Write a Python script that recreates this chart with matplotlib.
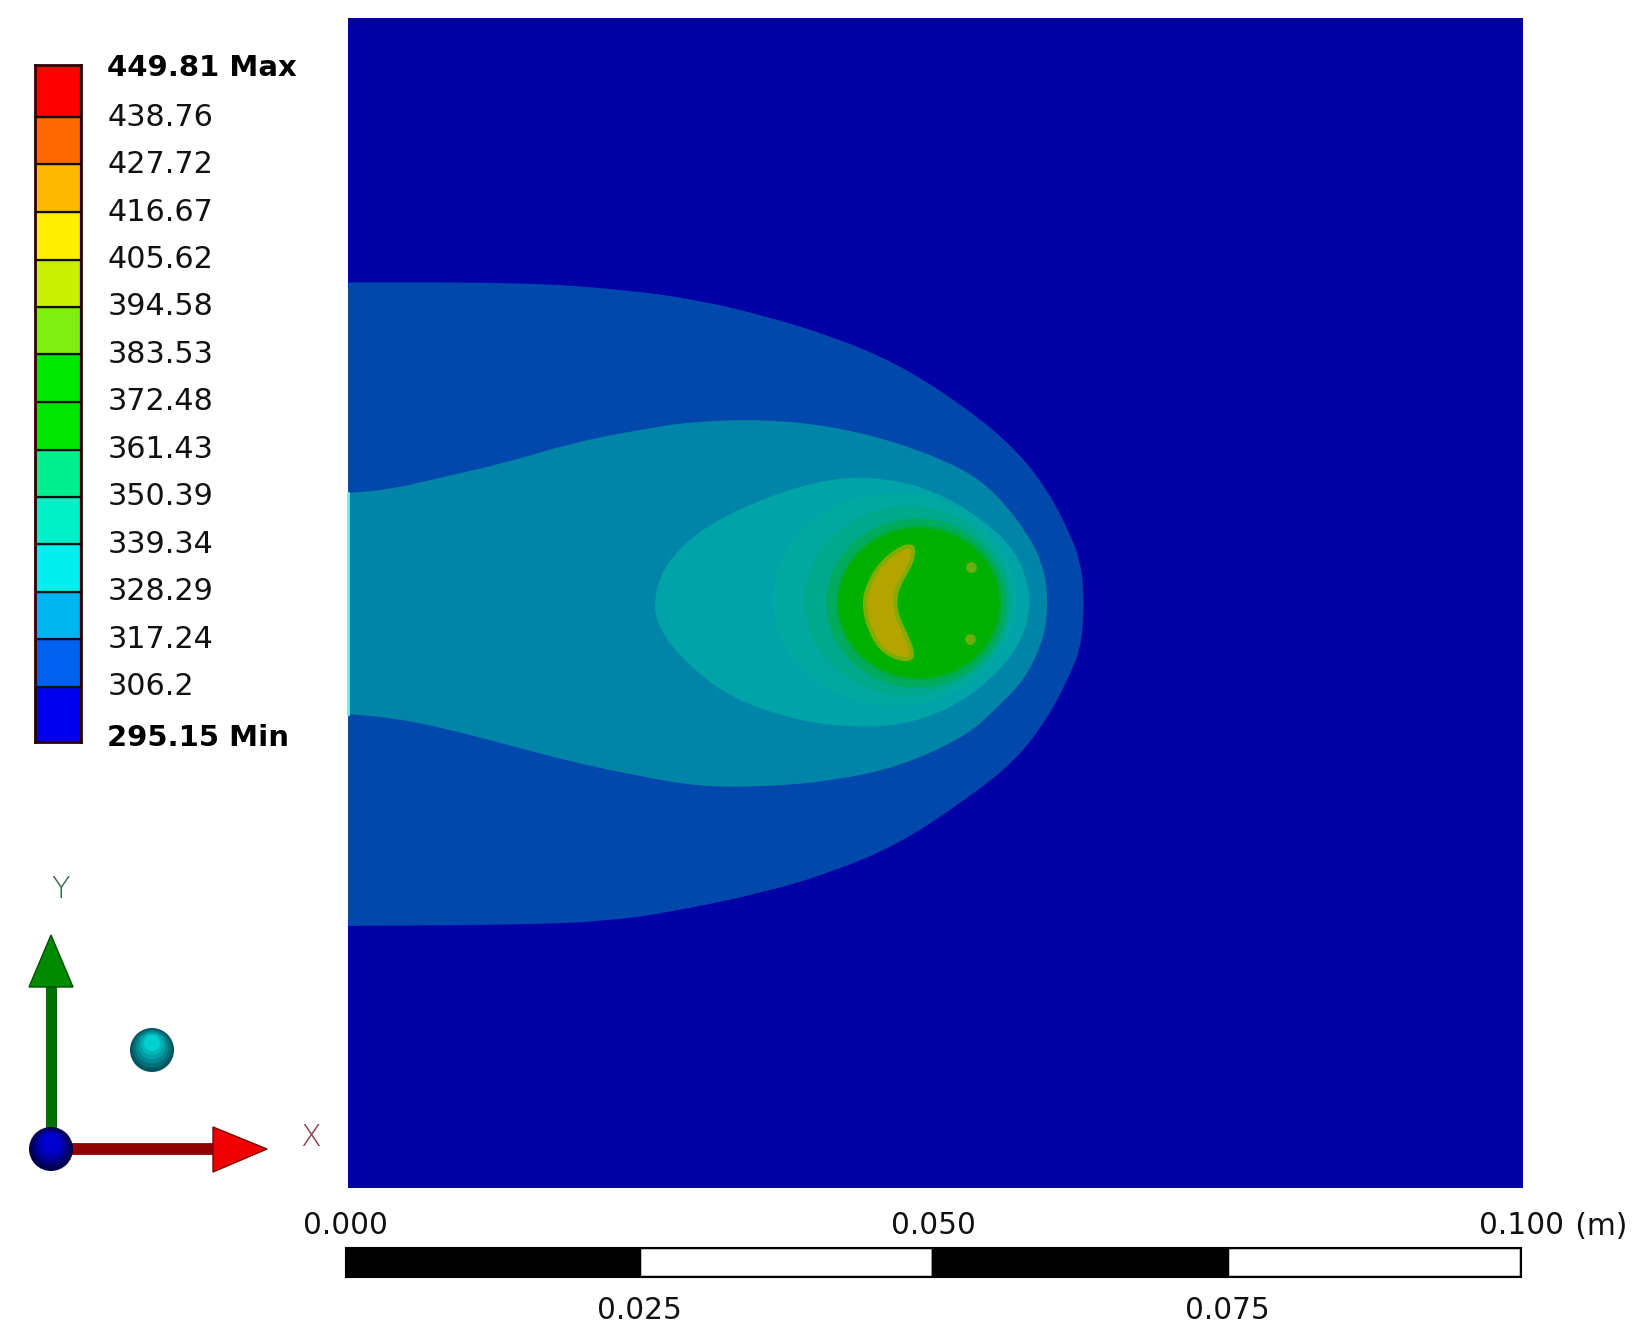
import matplotlib
matplotlib.use('Agg')
import matplotlib.pyplot as plt
from matplotlib.patches import Ellipse, PathPatch, Polygon, Circle
from matplotlib.path import Path
from matplotlib.transforms import ScaledTranslation

W, H = 1644, 1342

# legend
levels = [295.15, 306.2, 317.24, 328.29, 339.34, 350.39, 361.43, 372.48,
          383.53, 394.58, 405.62, 416.67, 427.72, 438.76, 449.81]
level_labels = ['295.15 Min', '306.2', '317.24', '328.29', '339.34', '350.39', '361.43', '372.48',
                '383.53', '394.58', '405.62', '416.67', '427.72', '438.76', '449.81 Max']
bar_edges = [293.4, 306.2, 317.24, 328.29, 339.34, 350.39, 361.43, 372.48,
             383.53, 394.58, 405.62, 416.67, 427.72, 438.76, 450.86]
bar_colors = ['#0000f0', '#0060f0', '#00b4f0', '#00f0f0', '#00f0c8', '#00f090', '#00e600',
              '#00e800', '#80ee10', '#c8f000', '#ffef00', '#ffb900', '#ff6a00', '#ff0000']

# temperature band outlines (mm)
band1_x = [0, 0, 14.9, 23.4, 29.9, 35.6, 41.2, 46.9, 52.6, 56.9, 59.7, 61.4, 62.3, 62.6, 62.6, 62.3, 61.4, 59.7,
           56.9, 52.6, 46.9, 41.2, 35.6, 27.6, 22.0, 14.9, 0, 0]
band1_y = [77.4, 77.4, 77.4, 76.8, 75.9, 74.5, 72.8, 70.4, 66.7, 63.1, 59.4, 56.0, 53.7, 51.2, 48.6, 46.0, 43.8, 40.4,
           36.6, 33.2, 29.4, 27.0, 25.3, 23.6, 22.8, 22.5, 22.4, 22.4]
band2_x = [0, 0, 3.6, 7.8, 13.5, 19.1, 24.8, 29.1, 35.6, 41.2, 46.9, 52.6, 55.4, 58.0, 59.1, 59.5,
           59.5, 59.0, 57.6, 55.4, 52.6, 46.9, 41.2, 35.6, 29.9, 24.8, 19.1, 13.5, 7.8, 3.6, 0, 0]
band2_y = [59.4, 59.4, 59.7, 60.7, 62.0, 63.7, 64.8, 65.5, 65.7, 65.1, 63.7, 61.4, 59.1, 55.7, 53.3, 51.2,
           48.6, 46.4, 43.5, 41.2, 38.6, 36.0, 34.8, 34.3, 34.3, 35.2, 36.4, 37.9, 39.4, 40.2, 40.5, 40.5]
band3_x = [25.9, 26.8, 29.9, 35.6, 41.2, 45.5, 49.7, 54.0, 56.9, 58.0, 58.0, 57.1, 54.8, 51.2, 46.9,
           42.7, 38.4, 32.7, 29.1, 26.8]
band3_y = [49.7, 53.1, 56.3, 59.1, 60.7, 60.7, 59.7, 57.2, 54.4, 51.2, 49.0, 46.3, 43.5, 40.9, 39.5,
           39.4, 39.9, 41.8, 44.6, 47.2]
crescent_x = [48.2, 46.8, 45.2, 44.2, 43.9, 44.4, 45.4, 46.9, 48.2, 47.6, 46.7, 46.5, 47.2, 48.0]
crescent_y = [55.0, 54.6, 53.2, 51.4, 49.7, 47.7, 46.0, 45.2, 45.2, 47.1, 48.8, 50.6, 52.2, 53.5]
spots_x = [53.0, 52.9]
spots_y = [53.1, 46.9]

# scale bar
scale_edges = [0, 0.025, 0.05, 0.075, 0.1]
scale_colors = ['black', 'white', 'black', 'white']
scale_top = [0, 0.05, 0.1]
scale_top_labels = ['0.000', '0.050', '0.100']
scale_bottom = [0.025, 0.075]
scale_bottom_labels = ['0.025', '0.075']


def px_axes(fig, left, top, right, bottom):
    return fig.add_axes([left / W, 1 - bottom / H, (right - left) / W, (bottom - top) / H])


# smooth outline through the read points
def outline(xs, ys, closed=True):
    pts = list(zip(xs, ys))
    mid = lambda a, b: ((a[0] + b[0]) / 2, (a[1] + b[1]) / 2)
    if closed:
        verts = [mid(pts[-1], pts[0])]
        codes = [Path.MOVETO]
        for i in range(len(pts)):
            verts += [pts[i], mid(pts[i], pts[(i + 1) % len(pts)])]
            codes += [Path.CURVE3, Path.CURVE3]
    else:
        verts = [pts[0]]
        codes = [Path.MOVETO]
        for i in range(1, len(pts) - 1):
            verts += [pts[i], mid(pts[i], pts[i + 1])]
            codes += [Path.CURVE3, Path.CURVE3]
        verts.append(pts[-1])
        codes.append(Path.LINETO)
        verts.append(pts[0])
        codes.append(Path.CLOSEPOLY)
    return Path(verts, codes)


fig = plt.figure(figsize=(W / 100, H / 100), dpi=100, facecolor='white')

#%% main field
ax = px_axes(fig, 348, 18, 1523, 1188)
ax.set_xlim(0, 100)
ax.set_ylim(0, 100)
ax.set_facecolor('#0000a5')
ax.set_xticks([])
ax.set_yticks([])
for s in ax.spines.values():
    s.set_visible(False)

ax.add_patch(PathPatch(outline(band1_x, band1_y, closed=False), fc='#0048ac', ec='none'))
ax.add_patch(PathPatch(outline(band2_x, band2_y, closed=False), fc='#0084a8', ec='none'))
ax.add_patch(PathPatch(outline(band3_x, band3_y), fc='#00a4a8', ec='none'))
ax.add_patch(Ellipse((46.5, 50.3), 20.8, 18.2, fc='#00a8a0', ec='none'))
ax.add_patch(Ellipse((47.6, 50.2), 17.6, 16.2, fc='#00a98c', ec='none'))
ax.add_patch(Ellipse((48.4, 50.0), 15.4, 14.5, fc='#00ab60', ec='none'))
ax.add_patch(Ellipse((48.6, 50.0), 13.9, 13.0, fc='#00b000', ec='#00ad30', lw=2))
ax.add_patch(PathPatch(outline(crescent_x, crescent_y), fc='#b4a400', ec='#80ae00', lw=3))
ax.scatter(spots_x, spots_y, s=60, c='#6cae10', linewidths=0)
ax.plot([0, 0], [40.5, 59.4], color='#70f0f0', lw=2, clip_on=False)

#%% legend bar
cax = px_axes(fig, 35, 65, 81, 742)
for i in range(len(bar_colors)):
    cax.bar(0, bar_edges[i + 1] - bar_edges[i], bottom=bar_edges[i], width=1,
            color=bar_colors[i], edgecolor='#101010', linewidth=1.6)
cax.set_xlim(-0.5, 0.5)
cax.set_ylim(bar_edges[0], bar_edges[-1])
cax.set_xticks([])
cax.yaxis.tick_right()
cax.set_yticks(levels, level_labels, fontsize=21.8, color='#111111')
cax.tick_params(axis='y', length=0, pad=19)
tick_labels = cax.get_yticklabels()
for lab in tick_labels:
    lab.set_transform(lab.get_transform() + ScaledTranslation(0, 3 / 100, fig.dpi_scale_trans))
for lab, shift in [(tick_labels[0], -3.5), (tick_labels[-1], 1.5)]:
    lab.set_fontweight('bold')
    lab.set_fontsize(21)
    lab.set_color('black')
    lab.set_transform(lab.get_transform() + ScaledTranslation(0, shift / 100, fig.dpi_scale_trans))
for s in cax.spines.values():
    s.set_color('#300000')
    s.set_linewidth(2)

#%% scale bar
sax = px_axes(fig, 345, 1247, 1521, 1277)
for i in range(len(scale_colors)):
    sax.barh(0, scale_edges[i + 1] - scale_edges[i], left=scale_edges[i], height=1,
             color=scale_colors[i], edgecolor='black', linewidth=2.5)
sax.set_xlim(0, 0.1)
sax.set_ylim(-0.5, 0.5)
sax.set_yticks([])
sax.set_xticks(scale_bottom, scale_bottom_labels, fontsize=21.3)
sax.tick_params(axis='x', length=0, pad=14, labelcolor='#111111')
sec = sax.secondary_xaxis('top')
sec.set_xticks(scale_top, scale_top_labels, fontsize=21.3)
sec.tick_params(axis='x', length=0, pad=5, labelcolor='#111111')
sec.spines['top'].set_visible(False)
for s in sax.spines.values():
    s.set_color('black')
sax.text(1.038, 1.2, ' (m)', transform=sax.transAxes, fontsize=21.3, color='#111111',
         ha='left', va='bottom')

#%% triad, in figure pixels
tax = fig.add_axes([0, 0, 1, 1], facecolor='none')
tax.set_xlim(0, W)
tax.set_ylim(H, 0)
tax.axis('off')
tax.set_zorder(-1)

tax.plot([51, 51], [1149, 985], color='#007000', lw=8, solid_capstyle='butt', zorder=1)
tax.add_patch(Polygon([(51, 935), (29, 987), (73, 987)], fc='#008a00', ec='#005000', lw=1, zorder=2))
tax.plot([51, 215], [1149, 1149], color='#900000', lw=8.5, solid_capstyle='butt', zorder=1)
tax.add_patch(Polygon([(267, 1149), (213, 1127), (213, 1172)], fc='#ee0000', ec='#800000', lw=1, zorder=2))
blue_shades = ['#000048', '#000068', '#000088', '#0000a8', '#0000c0', '#0000d0']
cyan_shades = ['#005560', '#006f78', '#008890', '#00a0a8', '#00b8bc', '#00d0d0']
for i in range(6):
    tax.add_patch(Circle((51, 1149 - 1.2 * i), 22 - 2.6 * i, fc=blue_shades[i], ec='none', zorder=3))
    tax.add_patch(Circle((152, 1050 - 1.4 * i), 22 - 2.8 * i, fc=cyan_shades[i], ec='none', zorder=3))
tax.text(61, 889, 'Y', fontsize=22, color='#2a6a4a', ha='center', va='center', fontweight='light')
tax.text(311, 1138, 'X', fontsize=22, color='#8a3a4a', ha='center', va='center', fontweight='light')

fig.savefig('out.png', dpi=100)
